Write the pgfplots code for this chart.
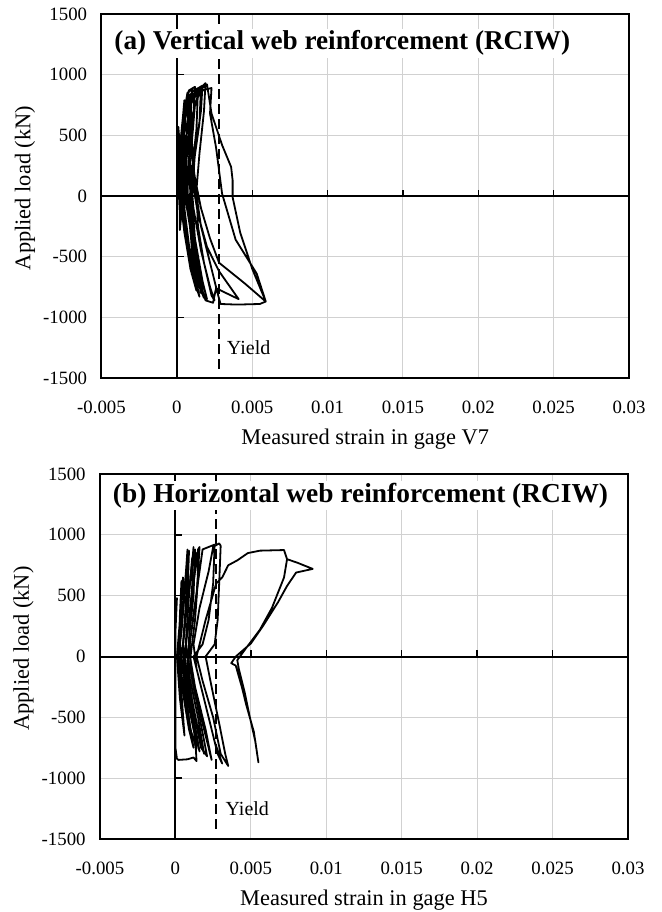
\documentclass[border=0pt]{standalone}
\usepackage{pgfplots}
\pgfplotsset{compat=1.18}
\usepackage{fontspec}
\setmainfont{Liberation Serif}
\tikzset{
  zeroaxes/.style={line width=1pt},
  ztick/.style={line width=0.7pt},
}
\pgfplotsset{
  hyst/.style={
    scale only axis,
    xmin=-0.005, xmax=0.03, ymin=-1500, ymax=1500,
    scaled x ticks=false, scaled y ticks=false,
    xtick={-0.005,0,0.005,0.01,0.015,0.02,0.025,0.03},
    xticklabels={-0.005,0,0.005,0.01,0.015,0.02,0.025,0.03},
    ytick={-1500,-1000,-500,0,500,1000,1500},
    yticklabels={-1500,-1000,-500,0,500,1000,1500},
    xmajorgrids, ymajorgrids,
    major grid style={line width=0.5pt, color=black!18},
    tick style={draw=none},
    axis line style={line width=1pt},
    ticklabel style={font=\fontsize{9.4}{11}\selectfont, inner sep=0pt},
    xticklabel style={anchor=center, yshift=-14.5pt},
    yticklabel style={anchor=east, xshift=-7pt},
    label style={font=\fontsize{11.2}{13}\selectfont},
    xlabel style={at={(axis description cs:0.5,-0.167)}, anchor=center},
    ylabel style={at={(axis description cs:-0.145,0.522)}, anchor=center},
    clip=false,
  },
  curve/.style={black, line width=0.9pt, line join=round, no markers},
}
\begin{document}
\begin{tikzpicture}
\useasboundingbox (0,0) rectangle (330.5pt,456pt);
% ---------------- panel (a) ----------------
\begin{axis}[hyst, at={(50.75pt,267pt)}, anchor=south west,
  width=263.75pt, height=182pt,
  xlabel={Measured strain in gage V7}, ylabel={Applied load (kN)}]
\draw[zeroaxes] (axis cs:-0.005,0) -- (axis cs:0.03,0);
\draw[zeroaxes] (axis cs:0,-1500) -- (axis cs:0,1500);
\draw[line width=1pt, dash pattern=on 5pt off 2.5pt] (axis cs:0.0028,1500) -- (axis cs:0.0028,-1450);
\draw[ztick] (axis cs:0,1000) -- (axis cs:0.00046,1000);
\draw[ztick] (axis cs:0,500) -- (axis cs:0.00046,500);
\draw[ztick] (axis cs:0,-500) -- (axis cs:0.00046,-500);
\draw[ztick] (axis cs:0,-1000) -- (axis cs:0.00046,-1000);
\draw[ztick] (axis cs:0.005,0) -- (axis cs:0.005,50);
\draw[ztick] (axis cs:0.01,0) -- (axis cs:0.01,50);
\draw[ztick] (axis cs:0.015,0) -- (axis cs:0.015,50);
\draw[ztick] (axis cs:0.02,0) -- (axis cs:0.02,50);
\draw[ztick] (axis cs:0.025,0) -- (axis cs:0.025,50);
\addplot[curve] coordinates {
(0,0) (0.0001,250) (0.0001,570) (0.0002,400) (0.0001,100) (0.0002,-150) (0.0002,-280) (0.0003,-150) (0.0002,100)
(0.0002,400) (0.0004,650) (0.0005,790) (0.0004,500) (0.0003,150) (0.0004,-150) (0.0007,-450) (0.0010,-650) (0.0008,-400) (0.0005,-100) (0.0004,200)
(0.0005,600) (0.0008,870) (0.0012,900) (0.0011,650) (0.0008,300) (0.0007,0) (0.0009,-300) (0.0013,-600) (0.0016,-800) (0.0014,-600) (0.0010,-300) (0.0007,50)
(0.0006,400) (0.0008,750) (0.0013,880) (0.0017,910) (0.0016,700) (0.0012,350) (0.0010,0) (0.0012,-350) (0.0016,-650) (0.0020,-850) (0.0017,-700) (0.0012,-350) (0.0009,0)
(0.0008,300) (0.0010,650) (0.0015,880) (0.0019,930) (0.0018,700) (0.0015,350) (0.0013,50) (0.0014,-250) (0.0018,-550) (0.0023,-820) (0.0025,-860) (0.0022,-750) (0.0016,-450) (0.0011,-100)
(0.0009,200) (0.0008,500) (0.0009,750) (0.0014,860) (0.0023,890) (0.0022,680) (0.0026,400) (0.0030,20) (0.0039,-360) (0.0053,-640) (0.0059,-870) (0.0055,-890) (0.0040,-895) (0.0029,-890) (0.0027,-800) (0.0022,-550) (0.0016,-250) (0.0012,100)
(0.0010,450) (0.0012,750) (0.0016,880) (0.0020,920) (0.0023,680) (0.0030,420) (0.0036,240) (0.0037,130) (0.0037,-10) (0.0042,-300) (0.0050,-600) (0.0059,-870) (0.0045,-720) (0.0028,-550) (0.0022,-350) (0.0016,-100) (0.0012,150) (0.0009,400)
(0.0006,500) (0.0003,300) (0.0002,0) (0.0005,-300) (0.0009,-600) (0.0013,-780) (0.0009,-500) (0.0004,-200) (0.0002,100) (0.0003,450) (0.0006,780)
(0.0011,870) (0.0016,900) (0.0015,600) (0.0011,250) (0.0009,-50) (0.0011,-400) (0.0015,-700) (0.0019,-860) (0.0024,-880) (0.0026,-760) (0.0041,-850) (0.0028,-620) (0.0020,-420) (0.0014,-150) (0.0010,150) (0.0007,450)
(0.0005,700) (0.0007,850) (0.0010,880) (0.0009,600) (0.0006,250) (0.0004,-50) (0.0006,-350) (0.0011,-680) (0.0015,-830) (0.0012,-650) (0.0007,-350) (0.0004,-50) (0.0003,250)
(0.0004,550) (0.0009,820) (0.0014,870) (0.0013,550) (0.0010,200) (0.0008,-100) (0.0010,-450) (0.0014,-720) (0.0018,-840) (0.0015,-650) (0.0010,-350) (0.0006,-50) (0.0005,250) (0.0007,600)
};
\node[anchor=west, fill=white, inner sep=1pt, font=\bfseries\fontsize{13.6}{16}\selectfont] at (axis description cs:0.02,0.92) {(a) Vertical web reinforcement (RCIW)};
\node[anchor=west, inner sep=0pt, font=\fontsize{10}{12}\selectfont] at (axis cs:0.0033,-1250) {Yield};
\end{axis}
% ---------------- panel (b) ----------------
\begin{axis}[hyst, at={(50pt,36.5pt)}, anchor=south west,
  width=264pt, height=182.5pt,
  xlabel={Measured strain in gage H5}, ylabel={Applied load (kN)}]
\draw[zeroaxes] (axis cs:-0.005,0) -- (axis cs:0.03,0);
\draw[zeroaxes] (axis cs:0,-1500) -- (axis cs:0,1500);
\draw[line width=1pt, dash pattern=on 5pt off 2.5pt] (axis cs:0.0027,1500) -- (axis cs:0.0027,-1450);
\draw[ztick] (axis cs:0,1000) -- (axis cs:0.00046,1000);
\draw[ztick] (axis cs:0,500) -- (axis cs:0.00046,500);
\draw[ztick] (axis cs:0,-500) -- (axis cs:0.00046,-500);
\draw[ztick] (axis cs:0,-1000) -- (axis cs:0.00046,-1000);
\draw[ztick] (axis cs:0.005,0) -- (axis cs:0.005,50);
\draw[ztick] (axis cs:0.01,0) -- (axis cs:0.01,50);
\draw[ztick] (axis cs:0.015,0) -- (axis cs:0.015,50);
\draw[ztick] (axis cs:0.02,0) -- (axis cs:0.02,50);
\draw[ztick] (axis cs:0.025,0) -- (axis cs:0.025,50);
\addplot[curve] coordinates {
(0,0) (0,300) (0.0001,480) (0,200) (0,-200) (0,-500) (0,-750) (0.0001,-840) (0.0002,-850) (0.0008,-845) (0.0012,-830) (0.0014,-860) (0.0013,-650) (0.0009,-350) (0.0005,-100) (0.0003,100)
(0.0004,400) (0.0005,650) (0.0006,500) (0.0004,200) (0.0002,0) (0.0005,-300) (0.0009,-600) (0.0012,-750) (0.0008,-450) (0.0004,-150) (0.0003,150)
(0.0006,500) (0.0008,800) (0.0009,870) (0.0008,500) (0.0006,200) (0.0004,0) (0.0007,-300) (0.0012,-600) (0.0016,-780) (0.0012,-500) (0.0007,-150) (0.0005,100)
(0.0008,450) (0.0011,750) (0.0012,900) (0.0011,550) (0.0008,200) (0.0006,0) (0.0010,-300) (0.0015,-600) (0.0019,-800) (0.0015,-500) (0.0009,-150) (0.0007,100)
(0.0010,400) (0.0013,700) (0.0015,880) (0.0016,900) (0.0014,500) (0.0010,150) (0.0008,0) (0.0013,-300) (0.0019,-600) (0.0024,-850) (0.0020,-600) (0.0013,-250) (0.0009,50)
(0.0012,350) (0.0016,700) (0.0018,880) (0.0024,910) (0.0026,920) (0.0025,600) (0.0022,300) (0.0018,100) (0.0012,0) (0.0017,-250) (0.0023,-550) (0.0028,-800) (0.0031,-880) (0.0026,-700) (0.0020,-400) (0.0014,-100) (0.0012,100)
(0.0016,400) (0.0022,700) (0.0025,900) (0.0029,930) (0.0030,910) (0.0029,600) (0.0028,300) (0.0026,100) (0.0020,0) (0.0024,-250) (0.0029,-550) (0.0033,-800) (0.0035,-900) (0.0030,-800) (0.0025,-500) (0.0018,-200) (0.0014,0)
(0.0020,300) (0.0027,600) (0.0031,650) (0.0035,750) (0.0041,790) (0.0048,850) (0.0056,870) (0.0072,875) (0.0074,800) (0.0081,770) (0.0091,720) (0.0080,690) (0.0074,580) (0.0068,446) (0.0058,250) (0.0050,107) (0.0040,0) (0.0037,-55) (0.0040,-75) (0.0044,-250) (0.0047,-400) (0.0052,-620) (0.0055,-870) (0.0053,-700) (0.0049,-480) (0.0046,-300) (0.0042,-100) (0.0041,-30) (0.0046,55) (0.0056,220) (0.0064,400) (0.0072,650) (0.0074,800)
};
\addplot[curve] coordinates {
(0.0002,0) (0.0003,350) (0.0004,620) (0.0003,300) (0.0001,0) (0.0003,-350) (0.0006,-650) (0.0004,-300) (0.0002,0)
(0.0005,400) (0.0007,700) (0.0008,880) (0.0007,450) (0.0005,100) (0.0006,-250) (0.0010,-600) (0.0014,-760) (0.0010,-400) (0.0006,-50)
(0.0009,500) (0.0011,800) (0.0013,880) (0.0012,500) (0.0009,150) (0.0008,-100) (0.0012,-450) (0.0017,-750) (0.0021,-820) (0.0016,-500) (0.0010,-100) (0.0009,250)
(0.0012,600) (0.0014,850) (0.0015,650) (0.0013,300) (0.0010,0)
};
\node[anchor=west, fill=white, inner sep=1pt, font=\bfseries\fontsize{13.7}{16}\selectfont] at (axis description cs:0.02,0.94) {(b) Horizontal web reinforcement (RCIW)};
\node[anchor=west, inner sep=0pt, font=\fontsize{10}{12}\selectfont] at (axis cs:0.0033,-1250) {Yield};
\end{axis}
\end{tikzpicture}
\end{document}
